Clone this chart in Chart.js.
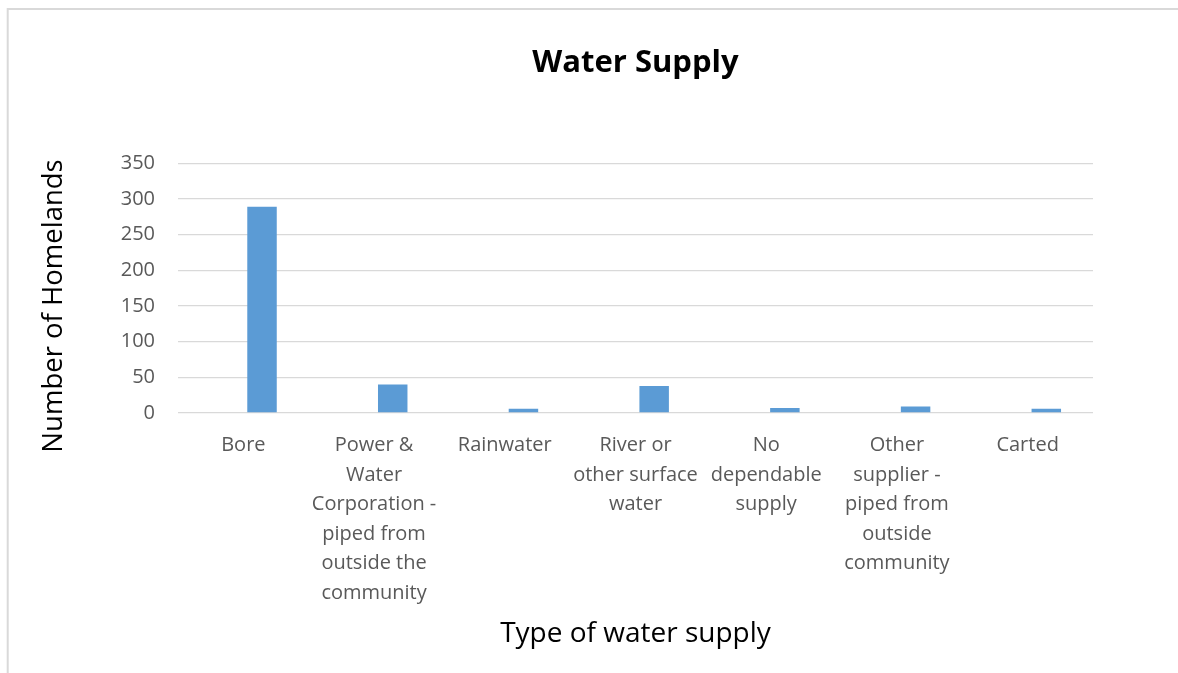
<!DOCTYPE html>
<html>
<head>
<meta charset="utf-8">
<title>Water Supply</title>
<script src="https://cdn.jsdelivr.net/npm/chart.js@4"></script>
<style>
  html, body { margin: 0; padding: 0; background: #fff; }
  #wrap { width: 1178px; height: 673px; }
</style>
</head>
<body>
<div id="wrap"><canvas id="chart" width="1178" height="673"></canvas></div>
<script>
// water supply types (wrapped the way they appear under the axis)
const categories = [
  'Bore',
  ['Power &', 'Water', 'Corporation -', 'piped from', 'outside the', 'community'],
  'Rainwater',
  ['River or', 'other surface', 'water'],
  ['No', 'dependable', 'supply'],
  ['Other', 'supplier -', 'piped from', 'outside', 'community'],
  'Carted'
];

// number of homelands per supply type
const homelands = [289, 40, 6, 38, 7, 9, 6];

// empty companion series - keeps the bars in the right half of each slot
const blankSeries = [null, null, null, null, null, null, null];

const yMin = 0;
const yMax = 350;
const yStep = 50;

const FONT = "'Open Sans', 'DejaVu Sans', sans-serif";
const GREY_TEXT = '#595959';
const GRID = '#d9d9d9';

// thin frame around the chart
const framePlugin = {
  id: 'frame',
  beforeDraw(chart) {
    const ctx = chart.ctx;
    ctx.save();
    ctx.strokeStyle = GRID;
    ctx.lineWidth = 2;
    ctx.beginPath();
    ctx.moveTo(7.7, chart.height);
    ctx.lineTo(7.7, 9);
    ctx.lineTo(chart.width, 9);
    ctx.stroke();
    ctx.restore();
  }
};

new Chart(document.getElementById('chart'), {
  type: 'bar',
  data: {
    labels: categories,
    datasets: [
      {
        label: '',
        data: blankSeries,
        backgroundColor: 'rgba(0,0,0,0)'
      },
      {
        label: 'Number of Homelands',
        data: homelands,
        backgroundColor: '#5b9bd5',
        borderWidth: 0
      }
    ]
  },
  options: {
    responsive: false,
    animation: false,
    categoryPercentage: 0.571,
    barPercentage: 0.79,
    layout: {
      padding: { left: 0, right: 85, top: 0, bottom: 0 }
    },
    plugins: {
      legend: { display: false },
      tooltip: { enabled: false },
      title: {
        display: true,
        fullSize: false,
        text: 'Water Supply',
        color: '#000',
        font: { family: FONT, size: 31, weight: 'bold', lineHeight: 1.2 },
        padding: { top: 45, bottom: 81 }
      }
    },
    scales: {
      x: {
        grid: { display: false },
        border: { display: false },
        ticks: {
          color: GREY_TEXT,
          font: { family: FONT, size: 20, lineHeight: 1.475 },
          padding: 10,
          maxRotation: 0,
          autoSkip: false
        },
        title: {
          display: true,
          text: 'Type of water supply',
          color: '#000',
          font: { family: FONT, size: 28, lineHeight: 1.2 },
          padding: { top: 0, bottom: 22 }
        },
        afterFit(scale) { scale.height = 260; }
      },
      y: {
        min: yMin,
        max: yMax,
        grid: { color: GRID, lineWidth: 1.3, drawTicks: false },
        border: { display: false },
        ticks: {
          stepSize: yStep,
          color: GREY_TEXT,
          font: { family: FONT, size: 20 },
          padding: 23
        },
        title: {
          display: true,
          // trailing spaces push the rotated text a little towards the bottom
          text: 'Number of Homelands     ',
          color: '#000',
          font: { family: FONT, size: 27.5, lineHeight: 1.2 },
          padding: { top: 38, bottom: 0 }
        },
        afterFit(scale) { scale.width = 178; }
      }
    }
  },
  plugins: [framePlugin]
});
</script>
</body>
</html>
